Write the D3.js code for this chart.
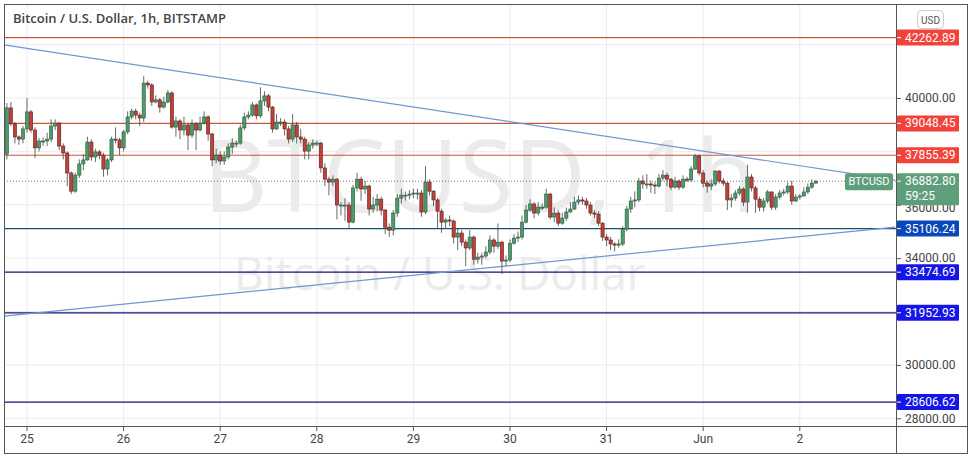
<!DOCTYPE html>
<html>
<head>
<meta charset="utf-8">
<script src="https://cdn.jsdelivr.net/npm/d3@7"></script>
<style>
  body { margin: 0; background: #fff; }
  text { font-family: "Open Sans", "DejaVu Sans", sans-serif; }
</style>
</head>
<body>
<div id="chart-area"></div>
<script>
// hourly candles, first one is May 24 19:00
var firstHour = -5;
var firstOpen = 37900;
var closes = [39630,39030,38540,38460,38840,39480,38800,38130,38390,38390,
  38460,38950,39060,38200,37940,37190,36510,37110,37530,37680,
  38350,37790,37980,37860,37340,37680,38460,38430,38130,38730,
  39290,39510,39360,39250,40560,40490,39850,39930,39660,39850,
  40190,38910,39140,38800,38990,38610,39030,38800,39060,39290,
  38650,37680,37860,37640,37790,38160,38310,38310,38880,39290,
  39360,39740,39330,39890,40080,39660,38840,39100,39100,38840,
  38460,38990,38540,38460,38010,38240,38310,38310,37380,36960,
  36850,36960,35990,35990,35990,35350,36630,36960,36590,36700,
  35840,35990,36210,35800,35160,35050,35690,36250,36360,36360,
  36400,36440,36440,35730,36850,36510,36180,35760,35350,35430,
  35390,34790,34940,34600,34380,34790,33960,34040,34080,34230,
  34680,34450,34600,33890,33930,34560,34750,34790,35350,35800,
  36030,35690,35910,35910,36400,35540,35690,35310,35500,35730,
  35840,36100,36180,36140,35990,35690,35650,35310,34790,34680,
  34530,34490,34530,35090,35840,36140,36180,36890,36780,36780,
  36740,36700,37000,37110,36960,36660,36890,36660,36960,36930,
  37340,37830,37190,36810,36700,36780,37260,36890,36810,36180,
  36250,36440,36590,36100,37040,36630,36210,35910,36140,36480,
  35910,36290,36440,36480,36700,36140,36290,36330,36480,36660,
  36810,36880];
var highs = [39810,39850,39100,38600,38950,40000,39550,38900,38500,38520,
  38700,39200,39200,39100,38300,38000,37250,37200,37700,37900,
  38550,38450,38100,38050,37950,37750,38550,38900,38500,38800,
  39500,39600,39600,39450,40830,40650,40550,40100,40000,40050,
  40300,40250,39300,39200,39300,39050,39200,39100,39300,39500,
  39350,38700,38100,38000,38000,38300,38500,38400,39000,39450,
  39500,39850,39800,40400,40250,40150,39700,39400,39250,39200,
  38950,39400,39100,38850,38550,38350,38450,38400,38350,37550,
  37050,37100,37000,36100,36250,36100,36750,37200,37050,36900,
  36750,36300,36400,36300,35850,35300,35800,36400,36600,36500,
  36550,36600,36600,36550,37450,36950,36550,36250,35850,35500,
  35600,35450,35100,35050,34700,35050,34850,34200,34200,34450,
  34850,34750,35300,34650,34100,34700,34900,35000,35600,36000,
  36200,36100,36100,36050,36600,36450,35900,35800,35700,35900,
  36100,36300,36350,36300,36250,36100,35800,35750,35350,34900,
  34800,34600,34700,35200,35950,36300,36500,37000,37100,37150,
  36900,36850,37150,37300,37200,37000,37050,36950,37100,37050,
  37450,37900,37880,37300,36900,36950,37300,37300,37000,36850,
  36400,36550,36700,36650,37500,37150,36700,36300,36250,36550,
  36500,36400,36550,36600,36850,36900,36400,36400,36650,36800,
  36950,36930];
var lows = [37700,38950,38300,38250,38300,38700,38700,37750,38000,38200,
  38200,38350,38800,38050,37700,36700,36400,36450,37000,37300,
  37650,37650,37600,37700,37050,37100,37600,38300,37850,38000,
  38650,39200,39200,38950,39100,40350,39700,39800,39450,39600,
  39800,38850,38550,38450,38600,38050,38500,38050,38750,39000,
  38400,37450,37550,37500,37500,37700,37900,38150,38250,38800,
  39200,39300,39200,39250,39700,39500,38700,38800,38950,38600,
  38300,38350,38300,38300,37700,37700,38100,38200,37200,36700,
  36350,36700,35450,35600,35400,35100,35300,36500,36150,36400,
  35600,35700,35750,35600,34900,34800,34850,35550,36050,36150,
  36200,36250,36200,35550,35650,36350,35950,35100,34950,35100,
  35200,34550,34300,34450,33700,34300,33750,33800,33750,34000,
  34150,34200,34350,33400,33700,33850,34500,34600,34700,35300,
  35750,35500,35600,35800,35850,35450,35350,35200,35250,35400,
  35700,35800,36000,36000,35850,35600,35500,35200,34650,34450,
  34300,34250,34400,34450,35000,35700,35900,36100,36600,36600,
  36450,36400,36650,36900,36700,36550,36600,36550,36600,36850,
  36850,37300,37100,36650,36450,36550,36700,36800,36700,35800,
  35900,36150,36350,35950,35700,36500,35700,35750,35750,36050,
  35800,35800,36200,36350,36400,36000,36100,36200,36300,36400,
  36600,36800];

var dayLabels = ["25","26","27","28","29","30","31","Jun","2"];
var priceTicks = [28000,30000,32000,34000,36000,38000,40000,42000];
var shownTicks = [28000,30000,34000,36000,40000];
var resistLevels = [42262.89,39048.45,37855.39];
var supportLevels = [35106.24,33474.69,31952.93,28606.62];
var lastPrice = 36882.80;
var countdown = "59:25";
// trend lines as [hour, price]
var upperTrend = [[-5.7,41990],[215.7,36920]];
var lowerTrend = [[-5.7,31830],[215.7,35160]];

var W = 973, H = 459;
var plotL = 4, plotR = 896, plotT = 4, plotB = 426;

var svg = d3.select("#chart-area").append("svg").attr("width", W).attr("height", H);

var x = d3.scaleLinear().domain([0, 24]).range([27, 27 + 96.6]);
var y = d3.scaleLinear().domain([28000, 40000]).range([418.3, 98]);

var candles = closes.map(function(c, i) {
  return { h: firstHour + i, o: i === 0 ? firstOpen : closes[i - 1], c: c, hi: highs[i], lo: lows[i] };
});

var defs = svg.append("defs");
defs.append("clipPath").attr("id", "plotClip").append("rect")
  .attr("x", plotL).attr("y", plotT).attr("width", plotR - plotL).attr("height", plotB - plotT);

// grid
var grid = svg.append("g");
grid.selectAll(".vg").data(dayLabels).enter().append("line")
  .attr("x1", function(d, i) { return x(i * 24); }).attr("x2", function(d, i) { return x(i * 24); })
  .attr("y1", plotT).attr("y2", plotB).attr("stroke", "#ececec");
grid.selectAll(".hg").data(priceTicks).enter().append("line")
  .attr("x1", plotL).attr("x2", plotR)
  .attr("y1", function(d) { return y(d); }).attr("y2", function(d) { return y(d); })
  .attr("stroke", "#ececec");

var plot = svg.append("g").attr("clip-path", "url(#plotClip)");

// watermark
plot.append("text").attr("x", 203).attr("y", 212)
  .attr("font-size", "100px").attr("fill", "#ebebeb").text("BTCUSD, 1h");
plot.append("text").attr("x", 234).attr("y", 290)
  .attr("font-size", "46px").attr("fill", "#ebebeb").text("Bitcoin / U.S. Dollar");

// horizontal levels
plot.selectAll(".res").data(resistLevels).enter().append("line")
  .attr("x1", plotL).attr("x2", plotR)
  .attr("y1", function(d) { return y(d); }).attr("y2", function(d) { return y(d); })
  .attr("stroke", "#c8553d").attr("stroke-width", 1.2);
plot.selectAll(".sup").data(supportLevels).enter().append("line")
  .attr("x1", plotL).attr("x2", plotR)
  .attr("y1", function(d) { return y(d); }).attr("y2", function(d) { return y(d); })
  .attr("stroke", function(d, i) { return i === 0 ? "#1d4f6e" : "#12127a"; }).attr("stroke-width", 1.2);

// trend lines
var line = d3.line().x(function(d) { return x(d[0]); }).y(function(d) { return y(d[1]); });
[upperTrend, lowerTrend].forEach(function(t) {
  plot.append("path").attr("d", line(t)).attr("fill", "none").attr("stroke", "#7096d0").attr("stroke-width", 1.2);
});

// last price dotted
plot.append("line").attr("x1", plotL).attr("x2", plotR)
  .attr("y1", y(lastPrice)).attr("y2", y(lastPrice))
  .attr("stroke", "#777").attr("stroke-dasharray", "1,2");

// candles
var cg = plot.selectAll(".candle").data(candles).enter().append("g");
cg.append("line")
  .attr("x1", function(d) { return x(d.h); }).attr("x2", function(d) { return x(d.h); })
  .attr("y1", function(d) { return y(d.hi); }).attr("y2", function(d) { return y(d.lo); })
  .attr("stroke", "#444").attr("stroke-width", 0.8);
cg.append("rect")
  .attr("x", function(d) { return x(d.h) - 1.6; }).attr("width", 3.2)
  .attr("y", function(d) { return y(Math.max(d.o, d.c)); })
  .attr("height", function(d) { return Math.max(1, Math.abs(y(d.o) - y(d.c))); })
  .attr("fill", function(d) { return d.c >= d.o ? "#4f9a6c" : "#c0403a"; })
  .attr("stroke", function(d) { return d.c >= d.o ? "#2b5a3c" : "#5c1f1c"; })
  .attr("stroke-width", 0.6);

// frames
svg.append("rect").attr("x", 4.5).attr("y", 4.5).attr("width", 963).attr("height", 449)
  .attr("fill", "none").attr("stroke", "#555");
svg.append("line").attr("x1", plotR + 0.5).attr("x2", plotR + 0.5).attr("y1", 4).attr("y2", 453).attr("stroke", "#555");
svg.append("line").attr("x1", 4).attr("x2", 968).attr("y1", plotB + 0.5).attr("y2", plotB + 0.5).attr("stroke", "#555");

// price axis
var yAxis = d3.axisRight(y).tickValues(shownTicks).tickSize(4).tickFormat(function(d) { return d3.format(".2f")(d); });
var yg = svg.append("g").attr("transform", "translate(" + (plotR + 1) + ",0)").call(yAxis);
yg.select(".domain").remove();
yg.selectAll("line").attr("stroke", "#555");
yg.selectAll("text").attr("font-size", "12px").attr("fill", "#444").attr("x", 8)
  .style("font-family", "Roboto, sans-serif");
yg.selectAll(".tick").filter(function(d) { return d === 36000; }).select("text").attr("dy", "0.55em");

// time axis
var xg = svg.append("g");
xg.selectAll(".xt").data(dayLabels).enter().append("line")
  .attr("x1", function(d, i) { return x(i * 24); }).attr("x2", function(d, i) { return x(i * 24); })
  .attr("y1", plotB).attr("y2", plotB + 5).attr("stroke", "#555");
xg.selectAll(".xl").data(dayLabels).enter().append("text")
  .attr("x", function(d, i) { return x(i * 24); }).attr("y", 443)
  .attr("text-anchor", "middle").attr("font-size", "12px").attr("fill", "#444")
  .style("font-family", "Roboto, sans-serif").text(function(d) { return d; });

// level labels
function tag(price, bg, lines) {
  var g = svg.append("g");
  var top = y(price) - 8;
  g.append("rect").attr("x", plotR + 1).attr("y", top).attr("width", 62).attr("height", 16 * lines.length)
    .attr("rx", 1).attr("fill", bg);
  g.append("line").attr("x1", plotR + 1).attr("x2", plotR + 5).attr("y1", y(price)).attr("y2", y(price)).attr("stroke", "#fff");
  lines.forEach(function(t, k) {
    g.append("text").attr("x", plotR + 9).attr("y", top + 12 + 15 * k).attr("font-size", "12px")
      .attr("fill", "#fff").style("font-family", "Roboto, sans-serif").text(t);
  });
}
resistLevels.forEach(function(p) { tag(p, "#f2423a", [d3.format(".2f")(p)]); });
supportLevels.forEach(function(p, i) { tag(p, i === 0 ? "#0a47b8" : "#1515e8", [d3.format(".2f")(p)]); });
tag(lastPrice, "#5f9e7b", [d3.format(".2f")(lastPrice), countdown]);

// BTCUSD pill
svg.append("rect").attr("x", 845).attr("y", y(lastPrice) - 8).attr("width", 48).attr("height", 17)
  .attr("rx", 2).attr("fill", "#5f9e7b");
svg.append("text").attr("x", 869).attr("y", y(lastPrice) + 4).attr("text-anchor", "middle")
  .attr("font-size", "11px").attr("fill", "#fff").style("font-family", "Roboto, sans-serif").text("BTCUSD");

// USD button
svg.append("rect").attr("x", 917.5).attr("y", 10.5).attr("width", 26).attr("height", 18).attr("rx", 4)
  .attr("fill", "#fff").attr("stroke", "#ccc");
svg.append("text").attr("x", 930.5).attr("y", 23.5).attr("text-anchor", "middle").attr("font-size", "10px")
  .attr("fill", "#555").style("font-family", "Roboto, sans-serif").text("USD");

// title
svg.append("text").attr("x", 13).attr("y", 23).attr("font-size", "13px").attr("font-weight", 600)
  .attr("fill", "#444").text("Bitcoin / U.S. Dollar, 1h, BITSTAMP");
</script>
</body>
</html>
